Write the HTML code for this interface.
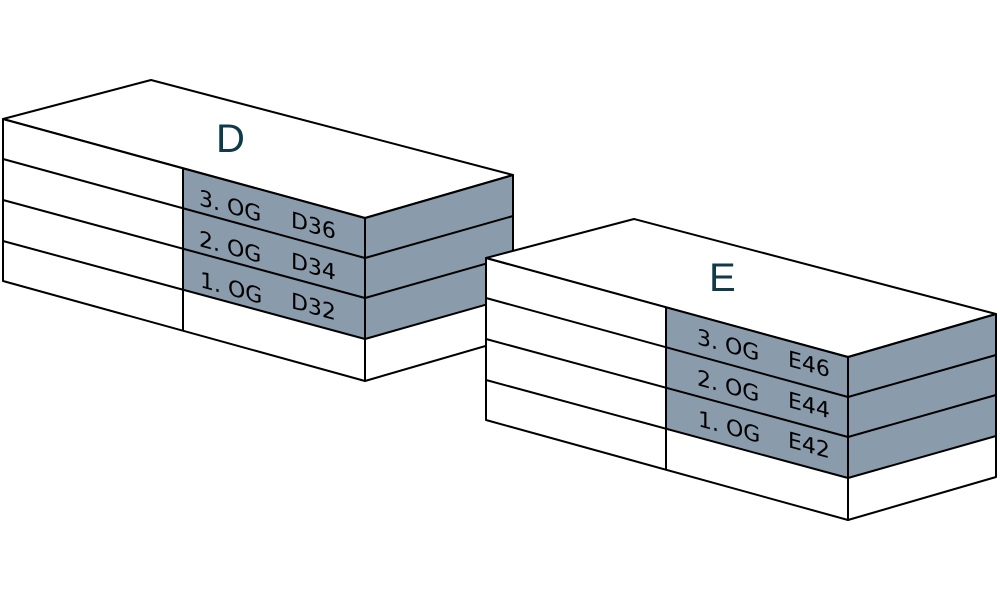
<!DOCTYPE html>
<html><head><meta charset="utf-8"><style>
html,body{margin:0;padding:0;background:#fff;}
svg{display:block}
text{font-family:"Liberation Sans","DejaVu Sans",sans-serif;}
.l{font-family:"DejaVu Sans","Liberation Sans",sans-serif;font-size:22px;}
</style></head><body>
<svg width="1000" height="600" viewBox="0 0 1000 600" xmlns="http://www.w3.org/2000/svg">
<defs>
<g id="bld">
  <polygon points="3,119 151,80 513,175 365,218" fill="#fff"/>
  <polygon points="3,119 365,218 365,381 3,281" fill="#fff"/>
  <polygon points="365,218 513,175 513,338 365,381" fill="#fff"/>
  <polygon points="183,168 365,218 365,339 183,290" fill="#8a9bab"/>
  <polygon points="365,218 513,175 513,297 365,339" fill="#8a9bab"/>
  <g stroke="#000" stroke-width="2" fill="none">
    <line x1="3" y1="159" x2="365" y2="258"/>
    <line x1="3" y1="200" x2="365" y2="298"/>
    <line x1="3" y1="241" x2="365" y2="339"/>
    <line x1="365" y1="258" x2="513" y2="216"/>
    <line x1="365" y1="298" x2="513" y2="256"/>
    <line x1="365" y1="339" x2="513" y2="297"/>
    <line x1="183" y1="168" x2="183" y2="330"/>
    <line x1="365" y1="218" x2="365" y2="381"/>
    <polygon points="3,119 151,80 513,175 365,218" stroke-linejoin="round"/>
    <polygon points="3,119 365,218 365,381 3,281" stroke-linejoin="round"/>
    <polygon points="365,218 513,175 513,338 365,381" stroke-linejoin="round"/>
  </g>
</g>
</defs>

<use href="#bld"/>
<text x="216" y="152" font-size="40" fill="#0f3a48">D</text>
<g fill="#000">
  <text class="l" transform="translate(199,205) skewY(15.3)">3. OG</text>
  <text class="l" transform="translate(291,227) skewY(15.3)">D36</text>
  <text class="l" transform="translate(199,246) skewY(15.3)">2. OG</text>
  <text class="l" transform="translate(291,268) skewY(15.3)">D34</text>
  <text class="l" transform="translate(200,287) skewY(15.3)">1. OG</text>
  <text class="l" transform="translate(291,308) skewY(15.3)">D32</text>
</g>

<g transform="translate(483,139)">
<use href="#bld"/>
<text x="226" y="152" font-size="40" fill="#0f3a48">E</text>
<g fill="#000">
  <text class="l" transform="translate(214,205) skewY(15.3)">3. OG</text>
  <text class="l" transform="translate(305,227) skewY(15.3)">E46</text>
  <text class="l" transform="translate(214,246) skewY(15.3)">2. OG</text>
  <text class="l" transform="translate(305,268) skewY(15.3)">E44</text>
  <text class="l" transform="translate(215,287) skewY(15.3)">1. OG</text>
  <text class="l" transform="translate(305,308) skewY(15.3)">E42</text>
</g>
</g>
</svg>
</body></html>
